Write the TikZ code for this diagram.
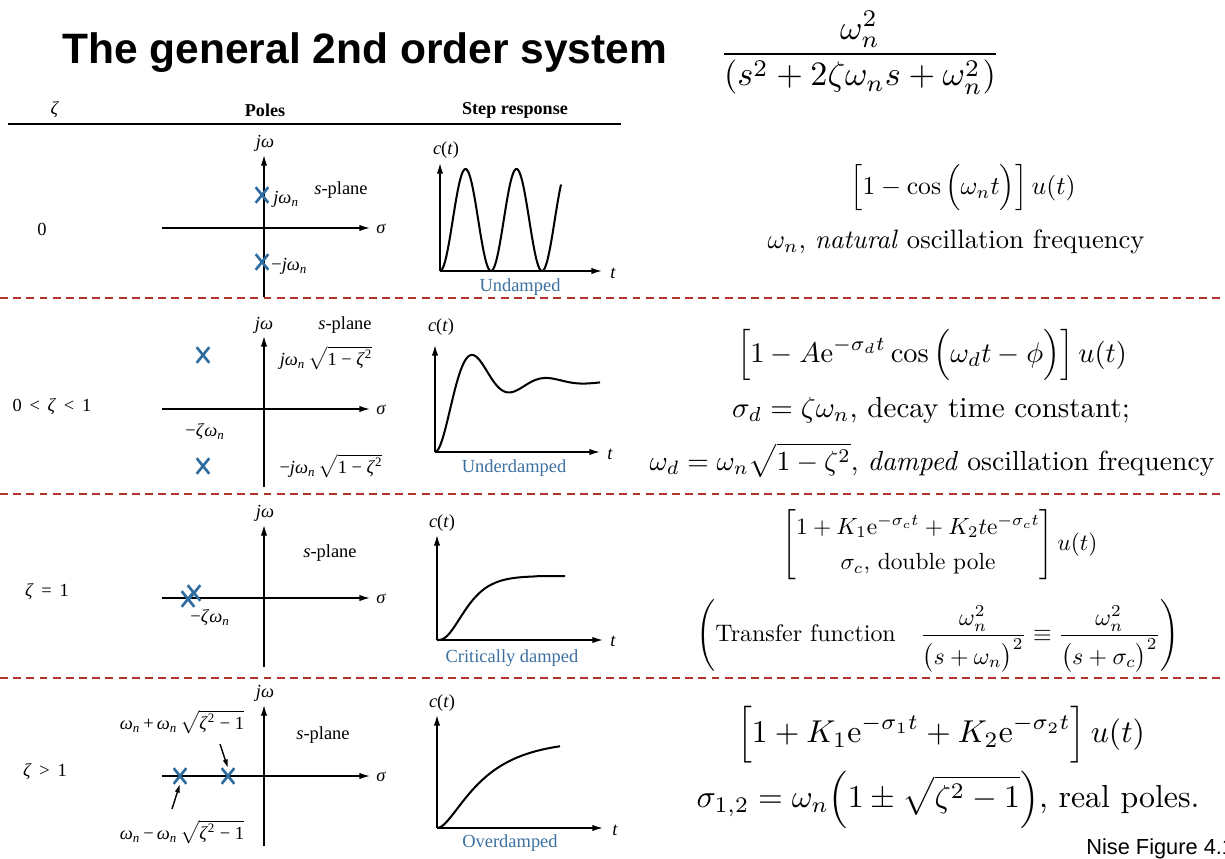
\documentclass[tikz,border=0pt]{standalone}
\usepackage{amsmath}
\usepackage{graphicx}
\usepackage{fontspec}
\newfontfamily\tms{Liberation Serif}
\newfontfamily\arl{Liberation Sans}
\usetikzlibrary{arrows.meta,shapes.misc}
\definecolor{dred}{RGB}{178,52,44}
\definecolor{pblue}{RGB}{46,108,160}
\definecolor{lblue}{RGB}{60,112,160}
\newcommand{\fitw}[2]{\resizebox{#1}{!}{$\displaystyle #2$}}
\newcommand{\tsqrt}[1]{\ensuremath{\sqrt{\hbox{#1}}}}
\newcommand{\wn}{{\itshape ω\textsubscript{n}}}
\begin{document}
\begin{tikzpicture}[x=0.02cm,y=-0.02cm,
  lab/.style={font=\tms\fontsize{10.5}{12}\selectfont, inner sep=0pt},
  hdr/.style={font=\tms\bfseries\fontsize{10.3}{12}\selectfont, inner sep=0pt},
  resp/.style={lab, text=lblue},
  axis/.style={line width=0.8pt, -{Latex[length=6pt,width=3.6pt]}},
  ptr/.style={line width=0.8pt, -{Latex[length=5pt,width=3pt]}},
  curve/.style={line width=1.15pt, line join=round},
  polemark/.style={draw=pblue, cross out, line width=1.5pt, minimum width=0.2cm, minimum height=0.26cm, inner sep=0pt},
  sep/.style={draw=dred, line width=1.1pt, dash pattern=on 4.5pt off 3pt},
  eq/.style={inner sep=0pt}]
\useasboundingbox (0,0) rectangle (1225,859);

% title and transfer function
\node[anchor=base west, inner sep=0pt, font=\arl\bfseries\fontsize{24.2}{28}\selectfont] (title) at (62,63) {The general 2nd order system};
\node[eq] (tf) at (860,53) {\fitw{5.6cm}{\frac{\omega_n^2}{(s^2+2\zeta\omega_n s+\omega_n^2)}}};

% header
\node[lab] (hz) at (55,110) {\textit{ζ}};
\node[hdr] (hp) at (265,110) {Poles};
\node[hdr] (hs) at (515,110) {Step response};
\coordinate (rl) at (8,124); \coordinate (rr) at (621,124);
\draw[line width=1.1pt] (rl) -- (rr);

% separators
\coordinate (s1a) at (0,298); \coordinate (s1b) at (1225,298);
\coordinate (s2a) at (0,494); \coordinate (s2b) at (1225,494);
\coordinate (s3a) at (0,678); \coordinate (s3b) at (1225,678);
\draw[sep] (s1a) -- (s1b);
\draw[sep] (s2a) -- (s2b);
\draw[sep] (s3a) -- (s3b);

% ================= Row 1 : zeta = 0
\node[lab] (z0) at (42,229) {0};
\coordinate (h1a) at (162,228); \coordinate (h1b) at (370,228);
\coordinate (v1a) at (264,297); \coordinate (v1b) at (264,155);
\draw[axis] (h1a) -- (h1b);
\draw[axis] (v1a) -- (v1b);
\node[lab] (jw1) at (265,143) {\itshape jω};
\node[lab] (sg1) at (381,229) {\itshape σ};
\node[lab] (sp1) at (341,190) {\textit{s}-plane};
\node[polemark] (p1a) at (262,195) {};
\node[polemark] (p1b) at (262,262) {};
\node[lab, anchor=west] (l1a) at (273,199) {\itshape jω\textsubscript{n}};
\node[lab, anchor=west] (l1b) at (271,266) {−\itshape jω\textsubscript{n}};
% step
\coordinate (o1) at (440,271);
\coordinate (c1v) at (440,163); \coordinate (c1h) at (602,271);
\draw[axis] (o1) -- (c1v);
\draw[axis] (o1) -- (c1h);
\node[lab] (ct1) at (446,150) {\textit{c}(\textit{t})};
\node[lab] (t1) at (613,273) {\itshape t};
\node[resp] (u1) at (520,287) {Undamped};
\draw[curve] plot[domain=0:121, samples=200] ({440+\x},{271-51*(1-cos(7.0588*\x))});

% ================= Row 2 : 0 < zeta < 1
\node[lab] (z1) at (52,407) {0\ \,<\ \,\textit{ζ}\ \,<\ \,1};
\coordinate (h2a) at (162,409); \coordinate (h2b) at (370,409);
\coordinate (v2a) at (264,487); \coordinate (v2b) at (264,336);
\draw[axis] (h2a) -- (h2b);
\draw[axis] (v2a) -- (v2b);
\node[lab] (jw2) at (264,325) {\itshape jω};
\node[lab] (sp2) at (345,325) {\textit{s}-plane};
\node[lab] (sg2) at (381,410) {\itshape σ};
\node[polemark] (p2a) at (203,355) {};
\node[polemark] (p2b) at (203,466) {};
\node[lab] (l2a) at (326,358) {{\itshape jω\textsubscript{n}}\,\tsqrt{1 − \textit{ζ}\textsuperscript{2}}};
\node[lab] (l2b) at (331,466) {−{\itshape jω\textsubscript{n}}\,\tsqrt{1 − \textit{ζ}\textsuperscript{2}}};
\node[lab] (l2c) at (205,432) {−\textit{ζ}\wn};
% step
\coordinate (o2) at (435,452);
\coordinate (c2v) at (435,345); \coordinate (c2h) at (600,452);
\draw[axis] (o2) -- (c2v);
\draw[axis] (o2) -- (c2h);
\node[lab] (ct2) at (441,327) {\textit{c}(\textit{t})};
\node[lab] (t2) at (610,454) {\itshape t};
\node[resp] (u2) at (514,468) {Underdamped};
\draw[curve] plot[domain=0:165, samples=200] ({435+\x},{452-70*(1-exp(-0.0257*\x)*(cos(4.865*\x)+0.3027*sin(4.865*\x)))});

% ================= Row 3 : zeta = 1
\node[lab] (z2) at (47,592) {\textit{ζ}\ \,=\ \,1};
\coordinate (h3a) at (162,598); \coordinate (h3b) at (370,598);
\coordinate (v3a) at (264,667); \coordinate (v3b) at (264,525);
\draw[axis] (h3a) -- (h3b);
\draw[axis] (v3a) -- (v3b);
\node[lab] (jw3) at (265,513) {\itshape jω};
\node[lab] (sp3) at (330,553) {\textit{s}-plane};
\node[lab] (sg3) at (381,599) {\itshape σ};
\node[polemark] (p3a) at (188,599) {};
\node[polemark] (p3b) at (194,593) {};
\node[lab] (l3c) at (210,618) {−\textit{ζ}\wn};
% step
\coordinate (o3) at (437,640);
\coordinate (c3v) at (437,535); \coordinate (c3h) at (603,640);
\draw[axis] (o3) -- (c3v);
\draw[axis] (o3) -- (c3h);
\node[lab] (ct3) at (442,523) {\textit{c}(\textit{t})};
\node[lab] (t3) at (613,641) {\itshape t};
\node[resp] (u3) at (512,658) {Critically damped};
\draw[curve] plot[domain=0:128, samples=150] ({437+\x},{640-64*(1-exp(-0.09*\x)*(1+0.09*\x+0.00405*\x*\x))});

% ================= Row 4 : zeta > 1
\node[lab] (z3) at (45,772) {\textit{ζ}\ \,>\ \,1};
\coordinate (h4a) at (162,776); \coordinate (h4b) at (370,776);
\coordinate (v4a) at (264,846); \coordinate (v4b) at (264,705);
\draw[axis] (h4a) -- (h4b);
\draw[axis] (v4a) -- (v4b);
\node[lab] (jw4) at (265,693) {\itshape jω};
\node[lab] (sp4) at (323,735) {\textit{s}-plane};
\node[lab] (sg4) at (381,777) {\itshape σ};
\node[polemark] (p4a) at (180,776) {};
\node[polemark] (p4b) at (228,776) {};
\node[lab] (l4a) at (182,722) {\wn\,+\,\wn\,\tsqrt{\textit{ζ}\textsuperscript{2} − 1}};
\node[lab] (l4b) at (182,832) {\wn\,−\,\wn\,\tsqrt{\textit{ζ}\textsuperscript{2} − 1}};
\coordinate (a1s) at (220,744);
\coordinate (a2s) at (172,809);
\draw[ptr] (a1s) -- (p4b.north);
\draw[ptr] (a2s) -- (p4a.south);
% step
\coordinate (o4) at (437,828);
\coordinate (c4v) at (437,715); \coordinate (c4h) at (603,828);
\draw[axis] (o4) -- (c4v);
\draw[axis] (o4) -- (c4h);
\node[lab] (ct4) at (442,703) {\textit{c}(\textit{t})};
\node[lab] (t4) at (615,830) {\itshape t};
\node[resp] (u4) at (510,843) {Overdamped};
\draw[curve] plot[domain=0:123, samples=150] ({437+\x},{828-88*(1-(0.09*exp(-0.024*\x)-0.024*exp(-0.09*\x))/0.066)});

% ================= right column formulas
\node[eq] (r1f) at (963,188) {\fitw{4.5cm}{\Bigl[1-\cos\,\Bigl(\omega_n t\Bigr)\Bigr]\,u(t)}};
\node[eq] (r1d) at (956,242) {\fitw{7.54cm}{\omega_n\text{, \textit{natural} oscillation frequency}}};
\node[eq] (r2f) at (932,355) {\fitw{7.8cm}{\Bigl[1-A\mathrm{e}^{-\sigma_d t}\cos\,\Bigl(\omega_d t-\phi\Bigr)\Bigr]\,u(t)}};
\node[eq] (r2d1) at (931,410) {\fitw{7.96cm}{\sigma_d=\zeta\omega_n\text{, decay time constant;}}};
\node[eq] (r2d2) at (932,460) {\fitw{11.3cm}{\omega_d=\omega_n\sqrt{1-\zeta^2}\text{, \textit{damped} oscillation frequency}}};
\node[eq] (r3f) at (940,545) {\fitw{6.3cm}{\left[\def\arraystretch{1.25}\begin{array}{@{}c@{}}1+K_1\mathrm{e}^{-\sigma_c t}+K_2t\mathrm{e}^{-\sigma_c t}\\ \sigma_c\text{, double pole}\end{array}\right]u(t)}};
\node[eq] (r3t) at (938,636) {\fitw{9.66cm}{\left(\text{Transfer function}\quad\frac{\omega_n^2}{\bigl(s+\omega_n\bigr)^2}\equiv\frac{\omega_n^2}{\bigl(s+\sigma_c\bigr)^2}\right)}};
\node[eq] (r4f) at (941,735) {\fitw{8.16cm}{\Bigl[1+K_1\mathrm{e}^{-\sigma_1 t}+K_2\mathrm{e}^{-\sigma_2 t}\Bigr]\,u(t)}};
\node[eq] (r4d) at (948,800) {\fitw{10.06cm}{\sigma_{1,2}=\omega_n\Bigl(1\pm\sqrt{\zeta^2-1}\Bigr)\text{, real poles.}}};

\node[anchor=base west, inner sep=0pt, font=\arl\fontsize{12.4}{14}\selectfont] (nise) at (1086,854) {Nise Figure 4.1};
\end{tikzpicture}
\end{document}
